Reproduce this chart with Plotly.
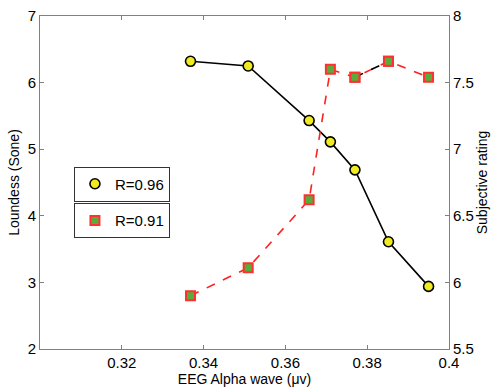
import plotly.graph_objects as go

eeg_alpha = [0.3368, 0.3509, 0.3658, 0.3710, 0.3770, 0.3852, 0.3950]
loudness = [6.32, 6.25, 5.43, 5.11, 4.69, 3.61, 2.94]
subjective = [5.90, 6.11, 6.62, 7.60, 7.54, 7.66, 7.54]
x_ticks = [0.32, 0.34, 0.36, 0.38, 0.40]
x_ticklabels = ["0.32", "0.34", "0.36", "0.38", "0.4"]
left_ticks = [2, 3, 4, 5, 6, 7]
right_ticks = [5.5, 6, 6.5, 7, 7.5, 8]
right_ticklabels = ["5.5", "6", "6.5", "7", "7.5", "8"]

FONT = "Liberation Sans, Arial, sans-serif"
AX = "#808080"

circle_marker = dict(symbol="circle", size=10, color="#f0ea20", line=dict(color="black", width=1.6))
square_marker = dict(symbol="square", size=9, color="#5aac3a", line=dict(color="#ff3030", width=2))

fig = go.Figure()
fig.add_trace(go.Scatter(
    x=eeg_alpha, y=loudness, mode="lines+markers", showlegend=False,
    line=dict(color="black", width=1.6), marker=circle_marker, yaxis="y"))
fig.add_trace(go.Scatter(
    x=eeg_alpha, y=subjective, mode="lines+markers", showlegend=False,
    line=dict(color="#ff2020", width=1.6, dash="dash"), marker=square_marker, yaxis="y2"))
fig.add_trace(go.Scatter(
    x=eeg_alpha[4:6], y=subjective[4:6], mode="lines", showlegend=False,
    line=dict(color="black", width=1.6, dash="dash"), yaxis="y2", hoverinfo="skip"))
fig.add_trace(go.Scatter(
    x=eeg_alpha[4:6], y=subjective[4:6], mode="markers", showlegend=False,
    marker=square_marker, yaxis="y2", hoverinfo="skip"))
# legend-only entries (markers only, as in the original)
fig.add_trace(go.Scatter(x=[None], y=[None], mode="markers", name="R=0.96",
                         marker=circle_marker, legend="legend"))
fig.add_trace(go.Scatter(x=[None], y=[None], mode="markers", name="R=0.91",
                         marker=square_marker, legend="legend2"))

axis_common = dict(ticks="inside", ticklen=4, tickcolor=AX, showline=True, linecolor=AX,
                   linewidth=1, showgrid=False, zeroline=False, automargin=False,
                   tickfont=dict(size=15))

fig.update_layout(
    width=492, height=387,
    margin=dict(l=40, r=43, t=16, b=38),
    paper_bgcolor="white", plot_bgcolor="white",
    font=dict(family=FONT, size=15, color="black"),
    xaxis=dict(range=[0.30, 0.40], tickvals=x_ticks, ticktext=x_ticklabels,
               mirror="ticks",
               title=dict(text="EEG Alpha wave (μv)", font=dict(size=14), standoff=2),
               **axis_common),
    yaxis=dict(range=[2, 7], tickvals=left_ticks,
               title=dict(text="Loundess (Sone)", font=dict(size=14), standoff=4),
               **axis_common),
    yaxis2=dict(range=[5.5, 8], tickvals=right_ticks, ticktext=right_ticklabels,
                overlaying="y", side="right",
                title=dict(text="Subjective rating", font=dict(size=14), standoff=4),
                **axis_common),
    legend=dict(x=0.083, y=0.548, xanchor="left", yanchor="top",
                bordercolor="#333333", borderwidth=1, bgcolor="white",
                font=dict(size=15), itemwidth=30, entrywidth=76, tracegroupgap=0),
    legend2=dict(x=0.083, y=0.438, xanchor="left", yanchor="top",
                 bordercolor="#333333", borderwidth=1, bgcolor="white",
                 font=dict(size=15), itemwidth=30, entrywidth=76, tracegroupgap=0),
    showlegend=True,
)

fig.write_html("out.html", config={"displayModeBar": False},
               post_script="document.body.style.margin='0';document.body.style.padding='0';")
